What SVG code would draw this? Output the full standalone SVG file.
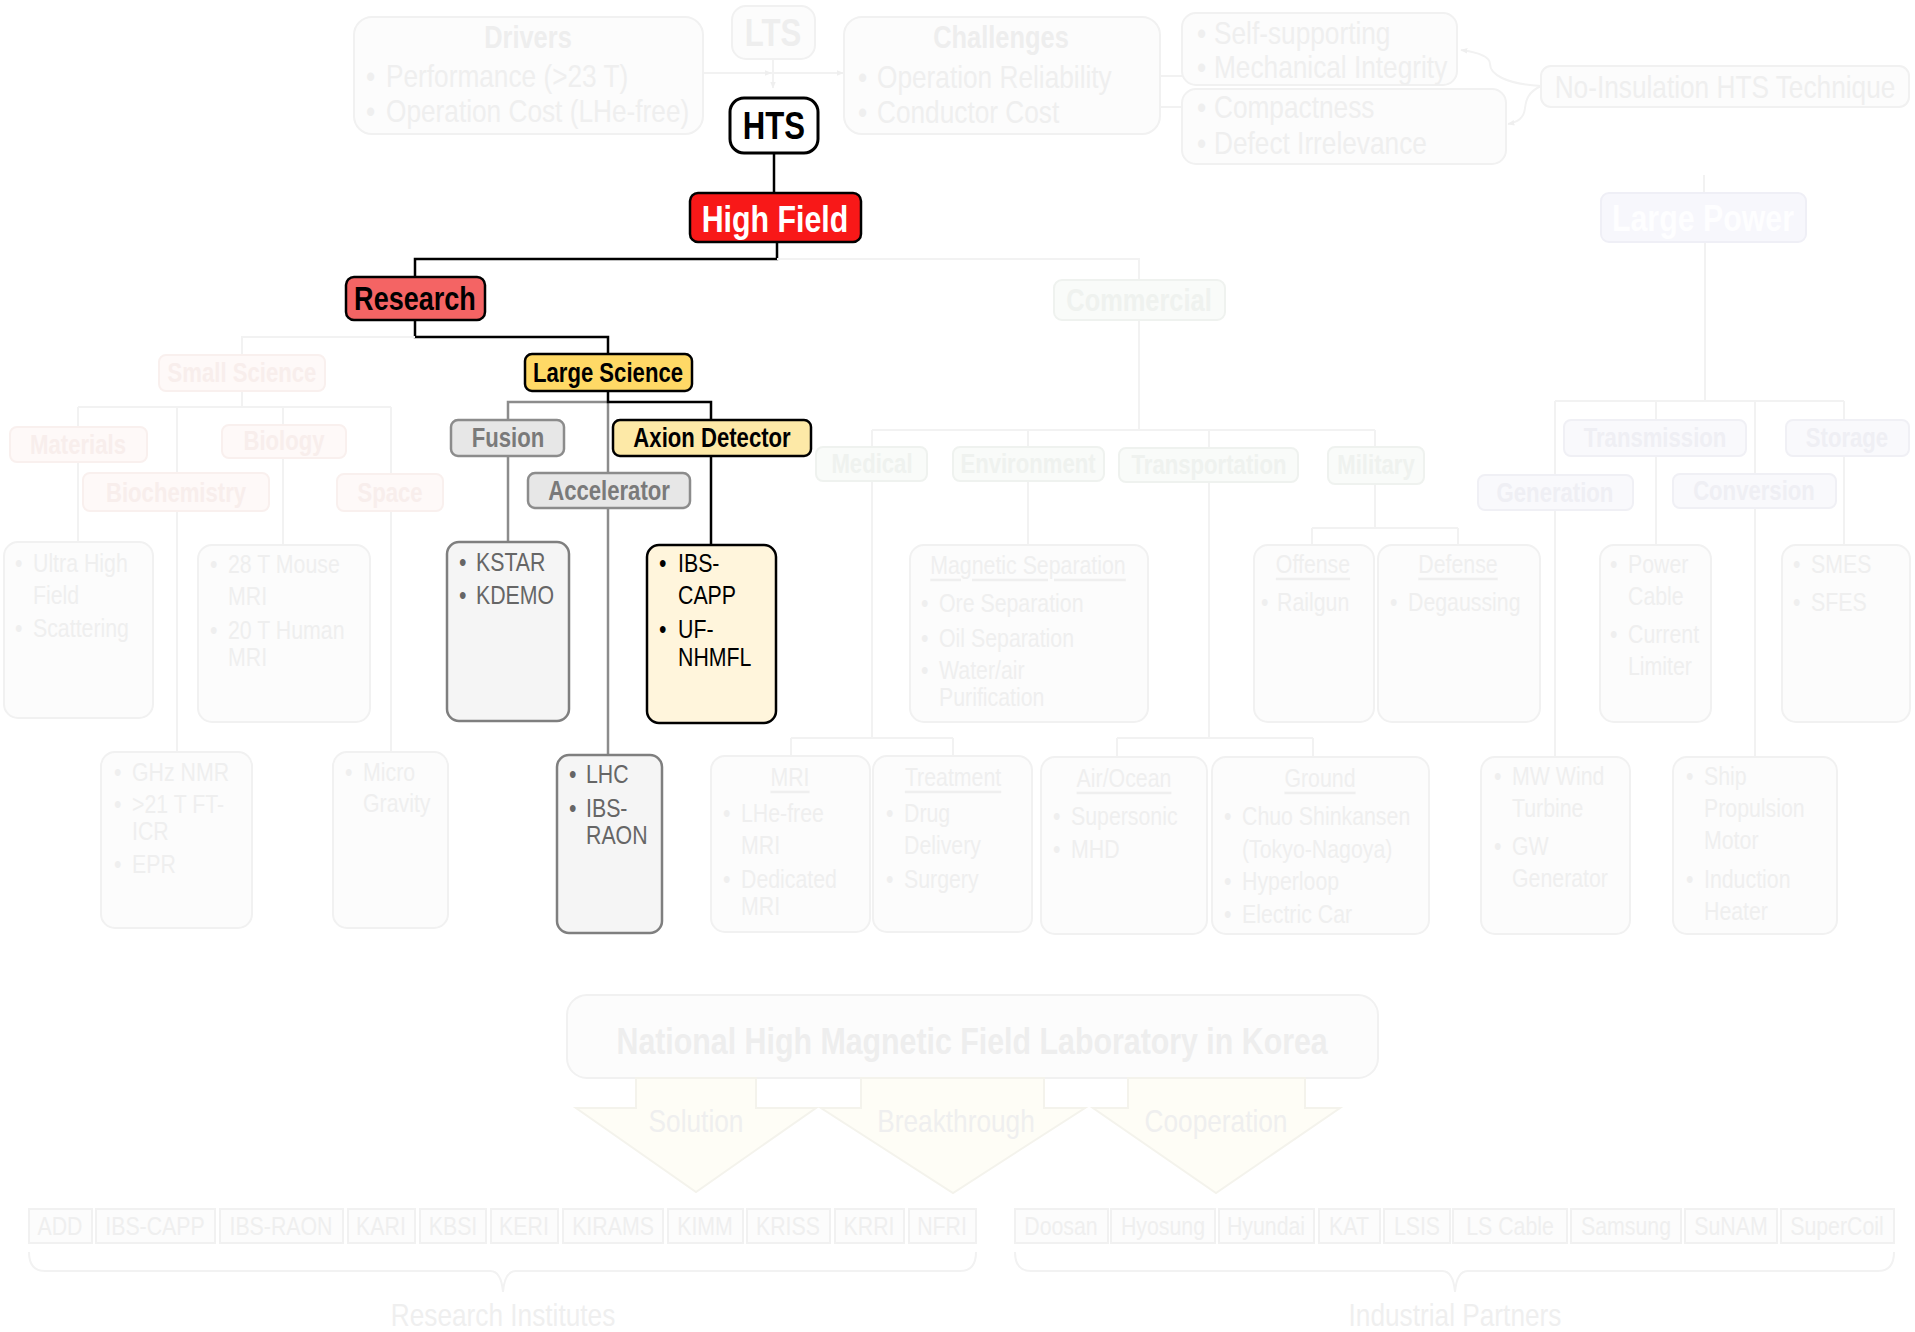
<svg xmlns="http://www.w3.org/2000/svg" width="1915" height="1332" viewBox="0 0 1915 1332">
<defs>
<style>
text{font-family:"Liberation Sans",Arial,sans-serif;dominant-baseline:central;transform-box:fill-box;transform-origin:0% 50%;transform:scaleX(.82)}
.b{font-weight:bold}
.c{text-anchor:middle;transform-origin:50% 50%}
.fb{fill:#fcfcfc;stroke:#f1f1f1;stroke-width:2}
.ft{fill:#efefef}
.fh{fill:#eeeeee;font-weight:bold}
.fl{fill:none;stroke:#f2f2f2;stroke-width:2}
.pk{fill:#fef9f8;stroke:#f9f0ee;stroke-width:2}
.pkt{fill:#f8eeec;font-weight:bold}
.gr{fill:#f9fbf9;stroke:#eff2ef;stroke-width:2}
.grt{fill:#eff2ef;font-weight:bold}
.lv{fill:#f9f9fc;stroke:#f0f0f5;stroke-width:2}
.lvt{fill:#efeff4;font-weight:bold}
.gy{fill:#e7e7e7;stroke:#8c8c8c;stroke-width:2.5}
.gyt{fill:#7a7a7a;font-weight:bold;font-size:27px}
.gb{fill:#f5f5f5;stroke:#7f7f7f;stroke-width:2.5}
.gbt{fill:#666;font-size:26px}
.bk{fill:none;stroke:#000;stroke-width:2.5}
.gl{fill:none;stroke:#8c8c8c;stroke-width:2.5}
.s26{font-size:26px}
.s27{font-size:27px}
.s32{font-size:32px}
.ul{text-decoration:underline}
</style>
<marker id="ah" viewBox="0 0 10 10" refX="9" refY="5" markerWidth="7" markerHeight="7" orient="auto-start-reverse" markerUnits="userSpaceOnUse">
<path d="M0,1 L10,5 L0,9 Z" fill="#efefef"/>
</marker>
</defs>
<rect width="1915" height="1332" fill="#ffffff"/>

<g id="connectors">
<path class="fl" d="M703,73 H771" marker-end="url(#ah)"/>
<path class="fl" d="M771,73 H843" marker-end="url(#ah)"/>
<path class="fl" d="M773,59 V88" marker-end="url(#ah)"/>
<path class="fl" d="M1182,76 H1124" marker-end="url(#ah)"/>
<path class="fl" d="M1182,107 H1080" marker-end="url(#ah)"/>
<path class="fl" d="M1541,86 C1505,84 1490,74 1490,64 C1490,56 1476,52 1461,50" marker-end="url(#ah)"/>
<path class="fl" d="M1541,86 C1528,92 1526,100 1525,108 C1524,118 1518,122 1508,124" marker-end="url(#ah)"/>
<path class="fl" d="M1704,175 V193"/>
<path class="bk" d="M774,153 V193"/>
<path class="bk" d="M777,242 V259 H415 V277"/>
<path class="fl" d="M777,259 H1139 V280"/>
<path class="bk" d="M415,320 V337 H608 V354"/>
<path class="fl" d="M415,337 H242 V355"/>
<path class="gl" d="M608,402 H508 V420"/>
<path class="gl" d="M608,402 V473"/>
<path class="bk" d="M608,391 V402 H711 V420"/>
<path class="gl" d="M508,456 V542"/>
<path class="gl" d="M608,508 V755"/>
<path class="bk" d="M711,456 V545"/>
<path class="fl" d="M242,391 V407 M78,407 H391 M78,407 V427 M177,407 V473 M283,407 V425 M391,407 V474"/>
<path class="fl" d="M78,462 V542 M283,458 V545 M177,511 V752 M391,511 V752"/>
<path class="fl" d="M1139,320 V430 M872,430 H1375 M872,430 V447 M1028,430 V447 M1209,430 V448 M1375,430 V447"/>
<path class="fl" d="M1028,481 V545"/>
<path class="fl" d="M1375,484 V528 M1312,528 H1458 M1312,528 V545 M1458,528 V545"/>
<path class="fl" d="M872,481 V738 M791,738 H953 M791,738 V756 M953,738 V756"/>
<path class="fl" d="M1209,482 V738 M1117,738 H1313 M1117,738 V757 M1313,738 V757"/>
<path class="fl" d="M1705,242 V401 M1555,401 H1844 M1555,401 V475 M1656,401 V420 M1755,401 V474 M1844,401 V420"/>
<path class="fl" d="M1656,456 V545 M1844,456 V545 M1555,510 V757 M1755,508 V757"/>
<path class="fl" d="M29,1252 C29,1266 36,1271 45,1271 H490 C498,1271 502,1280 503,1292 C504,1280 508,1271 516,1271 H960 C969,1271 976,1266 976,1252"/>
<path class="fl" d="M1015,1252 C1015,1266 1022,1271 1031,1271 H1442 C1450,1271 1454,1280 1455,1292 C1456,1280 1460,1271 1468,1271 H1878 C1887,1271 1894,1266 1894,1252"/>
</g>

<g id="drivers">
<rect class="fb" x="354" y="17" width="349" height="117" rx="18"/>
<text class="fh c" x="528" y="37" font-size="31">Drivers</text>
<text class="ft s32" x="366" y="76">•</text><text class="ft s32" x="386" y="76">Performance (&gt;23 T)</text>
<text class="ft s32" x="366" y="111">•</text><text class="ft s32" x="386" y="111">Operation Cost (LHe-free)</text>
</g>
<g id="lts">
<rect class="fb" x="732" y="6" width="83" height="53" rx="14"/>
<text class="fh c" x="773" y="33" font-size="38">LTS</text>
</g>
<g id="challenges">
<rect class="fb" x="844" y="17" width="316" height="117" rx="18"/>
<text class="fh c" x="1001" y="37" font-size="31">Challenges</text>
<text class="ft s32" x="858" y="77">•</text><text class="ft s32" x="877" y="77">Operation Reliability</text>
<text class="ft s32" x="858" y="112">•</text><text class="ft s32" x="877" y="112">Conductor Cost</text>
</g>
<g id="self-supporting">
<rect class="fb" x="1182" y="13" width="275" height="72" rx="14"/>
<text class="ft s32" x="1197" y="33">•</text><text class="ft s32" x="1214" y="33">Self-supporting</text>
<text class="ft s32" x="1197" y="67">•</text><text class="ft s32" x="1214" y="67">Mechanical Integrity</text>
</g>
<g id="compactness">
<rect class="fb" x="1182" y="89" width="324" height="75" rx="14"/>
<text class="ft s32" x="1197" y="107">•</text><text class="ft s32" x="1214" y="107">Compactness</text>
<text class="ft s32" x="1197" y="143">•</text><text class="ft s32" x="1214" y="143">Defect Irrelevance</text>
</g>
<g id="no-insulation">
<rect class="fb" x="1541" y="66" width="368" height="41" rx="10"/>
<text class="ft s32 c" x="1725" y="87">No-Insulation HTS Technique</text>
</g>
<g id="large-power">
<rect x="1601" y="193" width="205" height="49" rx="8" fill="#f7f7fc" stroke="#efeff6" stroke-width="2"/>
<text class="b c" x="1703" y="218" font-size="37" fill="#fefeff">Large Power</text>
</g>

<g id="hts">
<rect x="730" y="98" width="88" height="55" rx="14" fill="#fff" stroke="#000" stroke-width="3"/>
<text class="b c" x="774" y="126" font-size="38" fill="#000">HTS</text>
</g>
<g id="high-field">
<rect x="690" y="193" width="171" height="49" rx="8" fill="#f81818" stroke="#000" stroke-width="2.5"/>
<text class="b c" x="775" y="219" font-size="37" fill="#fff">High Field</text>
</g>
<g id="research">
<rect x="346" y="277" width="139" height="43" rx="8" fill="#f46464" stroke="#000" stroke-width="2.5"/>
<text class="b c" x="415" y="299" font-size="33" fill="#000">Research</text>
</g>
<g id="large-science">
<rect x="525" y="354" width="167" height="37" rx="7" fill="#ffd966" stroke="#000" stroke-width="2.5"/>
<text class="b c s27" x="608" y="373" fill="#000">Large Science</text>
</g>
<g id="fusion">
<rect class="gy" x="451" y="420" width="113" height="36" rx="7"/>
<text class="gyt c" x="508" y="438">Fusion</text>
</g>
<g id="axion-detector">
<rect x="613" y="420" width="198" height="36" rx="7" fill="#fde9a7" stroke="#000" stroke-width="2.5"/>
<text class="b c s27" x="712" y="438" fill="#000">Axion Detector</text>
</g>
<g id="accelerator">
<rect class="gy" x="528" y="473" width="162" height="35" rx="7"/>
<text class="gyt c" x="609" y="491">Accelerator</text>
</g>
<g id="kstar">
<rect class="gb" x="447" y="542" width="122" height="179" rx="12"/>
<text class="gbt" x="459" y="562">•</text><text class="gbt" x="476" y="562">KSTAR</text>
<text class="gbt" x="459" y="595">•</text><text class="gbt" x="476" y="595">KDEMO</text>
</g>
<g id="lhc">
<rect class="gb" x="557" y="755" width="105" height="178" rx="12"/>
<text class="gbt" x="569" y="774">•</text><text class="gbt" x="586" y="774">LHC</text>
<text class="gbt" x="569" y="808">•</text><text class="gbt" x="586" y="808">IBS-</text>
<text class="gbt" x="586" y="835">RAON</text>
</g>
<g id="ibs-capp">
<rect x="647" y="545" width="129" height="178" rx="12" fill="#fff5dc" stroke="#000" stroke-width="2.5"/>
<text class="s26" x="659" y="563" fill="#000">•</text><text class="s26" x="678" y="563" fill="#000">IBS-</text>
<text class="s26" x="678" y="595" fill="#000">CAPP</text>
<text class="s26" x="659" y="629" fill="#000">•</text><text class="s26" x="678" y="629" fill="#000">UF-</text>
<text class="s26" x="678" y="657" fill="#000">NHMFL</text>
</g>

<g id="small-science">
<rect class="pk" x="159" y="355" width="166" height="36" rx="7"/>
<text class="pkt c s27" x="242" y="373">Small Science</text>
</g>
<g id="materials">
<rect class="pk" x="10" y="427" width="137" height="35" rx="7"/>
<text class="pkt c s27" x="78" y="445">Materials</text>
</g>
<g id="biology">
<rect class="pk" x="222" y="425" width="124" height="33" rx="7"/>
<text class="pkt c s27" x="284" y="441">Biology</text>
</g>
<g id="biochemistry">
<rect class="pk" x="83" y="473" width="186" height="38" rx="7"/>
<text class="pkt c s27" x="176" y="493">Biochemistry</text>
</g>
<g id="space">
<rect class="pk" x="337" y="474" width="106" height="37" rx="7"/>
<text class="pkt c s27" x="390" y="493">Space</text>
</g>
<g id="ultra-high-field">
<rect class="fb" x="4" y="542" width="149" height="176" rx="14"/>
<text class="ft s26" x="15" y="563">•</text><text class="ft s26" x="33" y="563">Ultra High</text>
<text class="ft s26" x="33" y="595">Field</text>
<text class="ft s26" x="15" y="628">•</text><text class="ft s26" x="33" y="628">Scattering</text>
</g>
<g id="mouse-mri">
<rect class="fb" x="198" y="545" width="172" height="177" rx="14"/>
<text class="ft s26" x="210" y="564">•</text><text class="ft s26" x="228" y="564">28 T Mouse</text>
<text class="ft s26" x="228" y="596">MRI</text>
<text class="ft s26" x="210" y="630">•</text><text class="ft s26" x="228" y="630">20 T Human</text>
<text class="ft s26" x="228" y="657">MRI</text>
</g>
<g id="ghz-nmr">
<rect class="fb" x="101" y="752" width="151" height="176" rx="14"/>
<text class="ft s26" x="114" y="772">•</text><text class="ft s26" x="132" y="772">GHz NMR</text>
<text class="ft s26" x="114" y="804">•</text><text class="ft s26" x="132" y="804">&gt;21 T FT-</text>
<text class="ft s26" x="132" y="831">ICR</text>
<text class="ft s26" x="114" y="864">•</text><text class="ft s26" x="132" y="864">EPR</text>
</g>
<g id="micro-gravity">
<rect class="fb" x="333" y="752" width="115" height="176" rx="14"/>
<text class="ft s26" x="345" y="772">•</text><text class="ft s26" x="363" y="772">Micro</text>
<text class="ft s26" x="363" y="803">Gravity</text>
</g>

<g id="commercial">
<rect class="gr" x="1054" y="280" width="171" height="40" rx="8"/>
<text class="grt c" x="1139" y="300" font-size="31">Commercial</text>
</g>
<g id="medical">
<rect class="gr" x="816" y="447" width="111" height="34" rx="7"/>
<text class="grt c s27" x="872" y="464">Medical</text>
</g>
<g id="environment">
<rect class="gr" x="953" y="447" width="151" height="34" rx="7"/>
<text class="grt c s27" x="1028" y="464">Environment</text>
</g>
<g id="transportation">
<rect class="gr" x="1119" y="448" width="179" height="34" rx="7"/>
<text class="grt c s27" x="1209" y="465">Transportation</text>
</g>
<g id="military">
<rect class="gr" x="1328" y="447" width="96" height="37" rx="7"/>
<text class="grt c s27" x="1376" y="465">Military</text>
</g>
<g id="magnetic-separation">
<rect class="fb" x="910" y="545" width="238" height="177" rx="14"/>
<text class="ft s26 c ul" x="1028" y="565">Magnetic Separation</text>
<text class="ft s26" x="921" y="603">•</text><text class="ft s26" x="939" y="603">Ore Separation</text>
<text class="ft s26" x="921" y="638">•</text><text class="ft s26" x="939" y="638">Oil Separation</text>
<text class="ft s26" x="921" y="670">•</text><text class="ft s26" x="939" y="670">Water/air</text>
<text class="ft s26" x="939" y="697">Purification</text>
</g>
<g id="offense">
<rect class="fb" x="1254" y="545" width="120" height="177" rx="14"/>
<text class="ft s26 c ul" x="1313" y="564">Offense</text>
<text class="ft s26" x="1261" y="602">•</text><text class="ft s26" x="1277" y="602">Railgun</text>
</g>
<g id="defense">
<rect class="fb" x="1378" y="545" width="162" height="177" rx="14"/>
<text class="ft s26 c ul" x="1458" y="564">Defense</text>
<text class="ft s26" x="1390" y="602">•</text><text class="ft s26" x="1408" y="602">Degaussing</text>
</g>
<g id="mri">
<rect class="fb" x="711" y="756" width="159" height="176" rx="14"/>
<text class="ft s26 c ul" x="790" y="777">MRI</text>
<text class="ft s26" x="723" y="813">•</text><text class="ft s26" x="741" y="813">LHe-free</text>
<text class="ft s26" x="741" y="845">MRI</text>
<text class="ft s26" x="723" y="879">•</text><text class="ft s26" x="741" y="879">Dedicated</text>
<text class="ft s26" x="741" y="906">MRI</text>
</g>
<g id="treatment">
<rect class="fb" x="873" y="756" width="159" height="176" rx="14"/>
<text class="ft s26 c ul" x="953" y="777">Treatment</text>
<text class="ft s26" x="886" y="813">•</text><text class="ft s26" x="904" y="813">Drug</text>
<text class="ft s26" x="904" y="845">Delivery</text>
<text class="ft s26" x="886" y="879">•</text><text class="ft s26" x="904" y="879">Surgery</text>
</g>
<g id="air-ocean">
<rect class="fb" x="1041" y="757" width="166" height="177" rx="14"/>
<text class="ft s26 c ul" x="1124" y="778">Air/Ocean</text>
<text class="ft s26" x="1053" y="816">•</text><text class="ft s26" x="1071" y="816">Supersonic</text>
<text class="ft s26" x="1053" y="849">•</text><text class="ft s26" x="1071" y="849">MHD</text>
</g>
<g id="ground">
<rect class="fb" x="1212" y="757" width="217" height="177" rx="14"/>
<text class="ft s26 c ul" x="1320" y="778">Ground</text>
<text class="ft s26" x="1224" y="816">•</text><text class="ft s26" x="1242" y="816">Chuo Shinkansen</text>
<text class="ft s26" x="1242" y="849">(Tokyo-Nagoya)</text>
<text class="ft s26" x="1224" y="881">•</text><text class="ft s26" x="1242" y="881">Hyperloop</text>
<text class="ft s26" x="1224" y="914">•</text><text class="ft s26" x="1242" y="914">Electric Car</text>
</g>

<g id="transmission">
<rect class="lv" x="1564" y="420" width="182" height="36" rx="7"/>
<text class="lvt c s27" x="1655" y="438">Transmission</text>
</g>
<g id="storage">
<rect class="lv" x="1786" y="420" width="123" height="36" rx="7"/>
<text class="lvt c s27" x="1847" y="438">Storage</text>
</g>
<g id="generation">
<rect class="lv" x="1478" y="475" width="155" height="35" rx="7"/>
<text class="lvt c s27" x="1555" y="493">Generation</text>
</g>
<g id="conversion">
<rect class="lv" x="1673" y="474" width="163" height="34" rx="7"/>
<text class="lvt c s27" x="1754" y="491">Conversion</text>
</g>
<g id="power-cable">
<rect class="fb" x="1600" y="545" width="111" height="177" rx="14"/>
<text class="ft s26" x="1610" y="564">•</text><text class="ft s26" x="1628" y="564">Power</text>
<text class="ft s26" x="1628" y="596">Cable</text>
<text class="ft s26" x="1610" y="634">•</text><text class="ft s26" x="1628" y="634">Current</text>
<text class="ft s26" x="1628" y="666">Limiter</text>
</g>
<g id="smes">
<rect class="fb" x="1782" y="545" width="128" height="177" rx="14"/>
<text class="ft s26" x="1793" y="564">•</text><text class="ft s26" x="1811" y="564">SMES</text>
<text class="ft s26" x="1793" y="602">•</text><text class="ft s26" x="1811" y="602">SFES</text>
</g>
<g id="mw-wind">
<rect class="fb" x="1481" y="757" width="149" height="177" rx="14"/>
<text class="ft s26" x="1494" y="776">•</text><text class="ft s26" x="1512" y="776">MW Wind</text>
<text class="ft s26" x="1512" y="808">Turbine</text>
<text class="ft s26" x="1494" y="846">•</text><text class="ft s26" x="1512" y="846">GW</text>
<text class="ft s26" x="1512" y="878">Generator</text>
</g>
<g id="ship-propulsion">
<rect class="fb" x="1673" y="757" width="164" height="177" rx="14"/>
<text class="ft s26" x="1686" y="776">•</text><text class="ft s26" x="1704" y="776">Ship</text>
<text class="ft s26" x="1704" y="808">Propulsion</text>
<text class="ft s26" x="1704" y="840">Motor</text>
<text class="ft s26" x="1686" y="879">•</text><text class="ft s26" x="1704" y="879">Induction</text>
<text class="ft s26" x="1704" y="911">Heater</text>
</g>

<g id="nhmfl">
<rect class="fb" x="567" y="995" width="811" height="83" rx="20"/>
<text class="fh c" x="972" y="1041" font-size="37">National High Magnetic Field Laboratory in Korea</text>
</g>
<g id="solution">
<path d="M636,1078 H756 V1108 H816 L696,1192 L576,1108 H636 Z" fill="#fefdf6" stroke="#f4f3ec" stroke-width="2"/>
<text class="ft s32 c" x="696" y="1121">Solution</text>
</g>
<g id="breakthrough">
<path d="M861,1078 H1044 V1108 H1085 L953,1193 L821,1108 H861 Z" fill="#fefdf6" stroke="#f4f3ec" stroke-width="2"/>
<text class="ft s32 c" x="956" y="1121">Breakthrough</text>
</g>
<g id="cooperation">
<path d="M1128,1078 H1305 V1108 H1340 L1216,1193 L1093,1108 H1128 Z" fill="#fefdf6" stroke="#f4f3ec" stroke-width="2"/>
<text class="ft s32 c" x="1216" y="1121">Cooperation</text>
</g>

<g id="research-institutes">
<rect class="fb" x="29" y="1209" width="63" height="34"/><text class="ft s26 c" x="60" y="1226">ADD</text>
<rect class="fb" x="96" y="1209" width="119" height="34"/><text class="ft s26 c" x="155" y="1226">IBS-CAPP</text>
<rect class="fb" x="220" y="1209" width="123" height="34"/><text class="ft s26 c" x="281" y="1226">IBS-RAON</text>
<rect class="fb" x="348" y="1209" width="67" height="34"/><text class="ft s26 c" x="381" y="1226">KARI</text>
<rect class="fb" x="420" y="1209" width="66" height="34"/><text class="ft s26 c" x="453" y="1226">KBSI</text>
<rect class="fb" x="491" y="1209" width="67" height="34"/><text class="ft s26 c" x="524" y="1226">KERI</text>
<rect class="fb" x="563" y="1209" width="100" height="34"/><text class="ft s26 c" x="613" y="1226">KIRAMS</text>
<rect class="fb" x="668" y="1209" width="75" height="34"/><text class="ft s26 c" x="705" y="1226">KIMM</text>
<rect class="fb" x="747" y="1209" width="83" height="34"/><text class="ft s26 c" x="788" y="1226">KRISS</text>
<rect class="fb" x="835" y="1209" width="69" height="34"/><text class="ft s26 c" x="869" y="1226">KRRI</text>
<rect class="fb" x="909" y="1209" width="67" height="34"/><text class="ft s26 c" x="942" y="1226">NFRI</text>
<text class="ft s32 c" x="503" y="1315">Research Institutes</text>
</g>
<g id="industrial-partners">
<rect class="fb" x="1015" y="1209" width="93" height="34"/><text class="ft s26 c" x="1061" y="1226">Doosan</text>
<rect class="fb" x="1111" y="1209" width="104" height="34"/><text class="ft s26 c" x="1163" y="1226">Hyosung</text>
<rect class="fb" x="1219" y="1209" width="95" height="34"/><text class="ft s26 c" x="1266" y="1226">Hyundai</text>
<rect class="fb" x="1319" y="1209" width="61" height="34"/><text class="ft s26 c" x="1349" y="1226">KAT</text>
<rect class="fb" x="1384" y="1209" width="66" height="34"/><text class="ft s26 c" x="1417" y="1226">LSIS</text>
<rect class="fb" x="1453" y="1209" width="114" height="34"/><text class="ft s26 c" x="1510" y="1226">LS Cable</text>
<rect class="fb" x="1571" y="1209" width="110" height="34"/><text class="ft s26 c" x="1626" y="1226">Samsung</text>
<rect class="fb" x="1685" y="1209" width="92" height="34"/><text class="ft s26 c" x="1731" y="1226">SuNAM</text>
<rect class="fb" x="1781" y="1209" width="113" height="34"/><text class="ft s26 c" x="1837" y="1226">SuperCoil</text>
<text class="ft s32 c" x="1455" y="1315">Industrial Partners</text>
</g>
</svg>
